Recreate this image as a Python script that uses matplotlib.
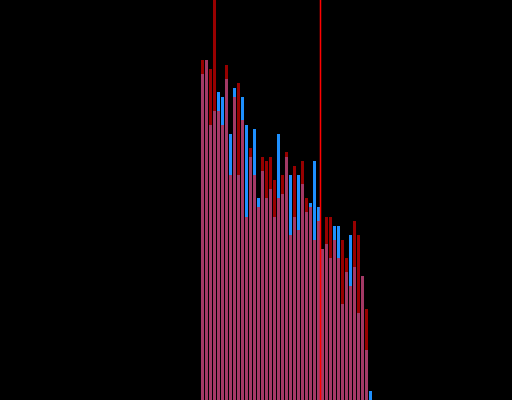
import numpy as np
import matplotlib
matplotlib.use('Agg')
import matplotlib.pyplot as plt

# bar heights (pixels above the bottom edge)
red_vals = [340, 340, 331, 420, 289, 275, 335, 225, 303, 317, 280, 183, 252, 225, 193,
            243, 239, 243, 220, 202, 225, 248, 165, 234, 170, 239, 202, 193, 160, 179,
            151, 183, 183, 160, 142, 160, 142, 114, 179, 165, 124, 91, 0]
blue_vals = [326, 340, 275, 289, 308, 303, 321, 266, 312, 225, 303, 275, 243, 271, 202,
             229, 202, 211, 183, 266, 206, 243, 225, 183, 225, 216, 188, 197, 239, 193,
             151, 156, 142, 174, 174, 96, 128, 165, 133, 87, 124, 50, 9]
marker_x = 29.5

x = np.arange(len(red_vals))

fig = plt.figure(figsize=(5.12, 4), dpi=100, facecolor='black')
ax = fig.add_axes([0, 0, 1, 1])
ax.set_facecolor('black')

ax.bar(x, blue_vals, width=0.75, color='dodgerblue', linewidth=0)
ax.bar(x, red_vals, width=0.75, color='red', alpha=0.6, linewidth=0)
ax.axvline(marker_x, color='red', linewidth=1.1, snap=False)

ax.set_xlim(-50.625, 77.375)
ax.set_ylim(0, 400)
ax.axis('off')

plt.savefig('out.png', dpi=100, facecolor='black')
